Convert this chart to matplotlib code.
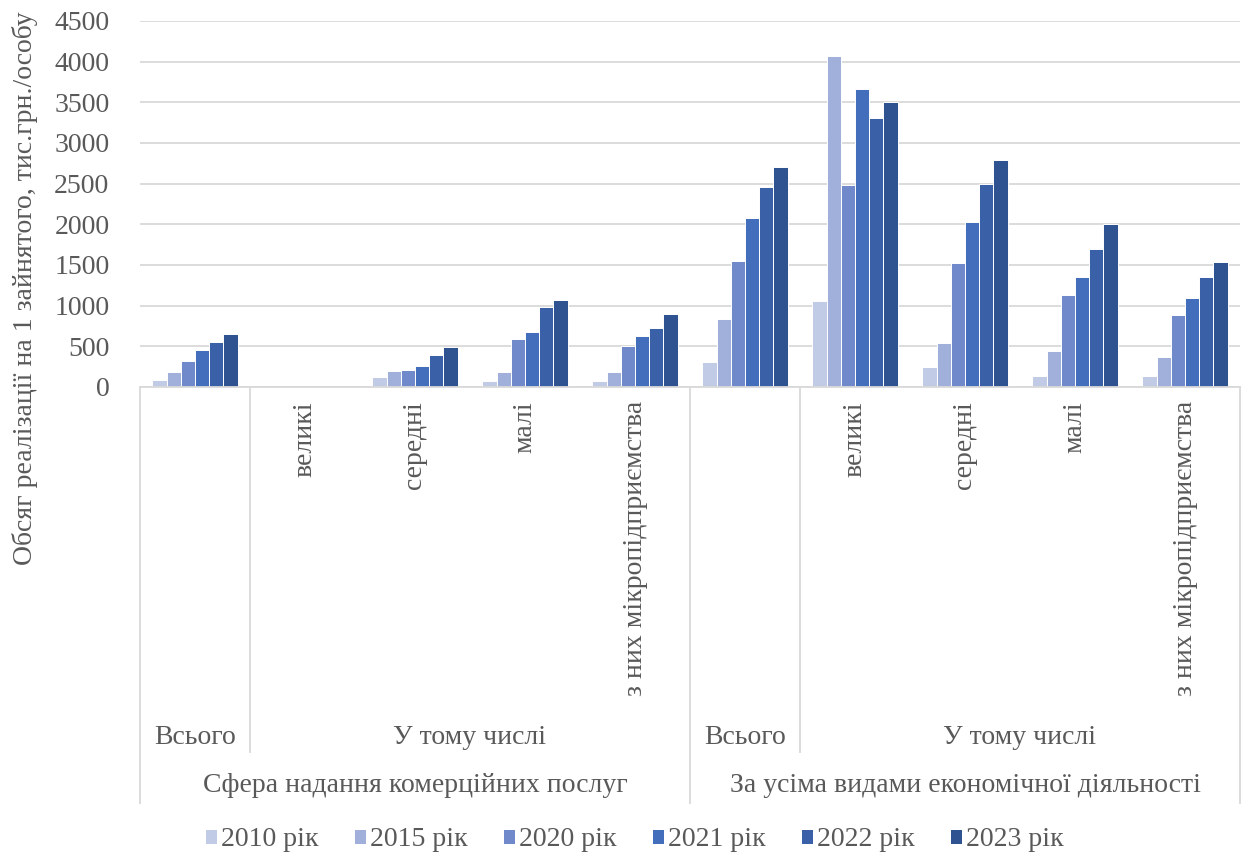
import numpy as np
import matplotlib
matplotlib.use("Agg")
import matplotlib.pyplot as plt
from matplotlib.lines import Line2D

plt.rcParams['font.family'] = ['Liberation Serif', 'DejaVu Serif']

# Category structure (two-level axis)
groups = ["Сфера надання комерційних послуг", "За усіма видами економічної діяльності"]
subgroups = ["Всього", "У тому числі"]
sizes = ["великі", "середні", "малі", "з них мікропідприємства"]
categories = ["Всього"] + sizes + ["Всього"] + sizes

series_names = ["2010 рік", "2015 рік", "2020 рік", "2021 рік", "2022 рік", "2023 рік"]
colors = ["#C1CBE5", "#A1B0DA", "#7089CB", "#426EBC", "#3A60A8", "#2F5290"]

# Values, thousand UAH per employed person (None = no data)
v2010 = [91, None, 124, 74, 70, 309, 1056, 247, 140, 140]
v2015 = [190, None, 202, 190, 190, 837, 4070, 540, 445, 371]
v2020 = [318, None, 215, 587, 500, 1555, 2487, 1522, 1126, 891]
v2021 = [455, None, 264, 678, 628, 2083, 3666, 2025, 1349, 1097]
v2022 = [558, None, 393, 979, 731, 2454, 3311, 2495, 1695, 1357]
v2023 = [657, None, 488, 1066, 901, 2709, 3505, 2796, 2000, 1542]
series = [v2010, v2015, v2020, v2021, v2022, v2023]

yticks = [0, 500, 1000, 1500, 2000, 2500, 3000, 3500, 4000, 4500]

W, H = 1248, 856
fig = plt.figure(figsize=(W / 100, H / 100), dpi=100)

x0, x1 = 140, 1240
y_top, y_base = 21, 387
ax = fig.add_axes([x0 / W, 1 - y_base / H, (x1 - x0) / W, (y_base - y_top) / H])

text_color = "#595959"
grid_color = "#D9D9D9"
fs = 20

n = len(categories)
idx = np.arange(n) + 0.5
bw = 0.129
for j, (vals, name, c) in enumerate(zip(series, series_names, colors)):
    arr = np.array([np.nan if v is None else v for v in vals], dtype=float)
    ax.bar(idx + (j - 2.5) * bw, arr, width=bw, color=c, edgecolor="white",
           linewidth=0.7, label=name, zorder=3)

ax.set_xlim(0, n)
ax.set_ylim(0, 4500)
ax.set_yticks(yticks)
ax.set_yticklabels([str(t) for t in yticks], fontsize=fs, color=text_color)
ax.tick_params(axis='y', length=0, pad=22)
ax.set_xticks([])
ax.yaxis.grid(True, color=grid_color, linewidth=1.3, zorder=0)
for s in ["top", "right", "left"]:
    ax.spines[s].set_visible(False)
ax.spines["bottom"].set_color(grid_color)
ax.spines["bottom"].set_linewidth(1.3)
ax.spines["bottom"].set_zorder(4)

# Multi-level category axis, drawn in figure pixel coordinates
def fx(px):
    return px / W

def fy(py):
    return 1 - py / H

cw = (x1 - x0) / n
lvl1_bottom = 752
lvl2_bottom = 803
for k in range(n + 1):
    xp = x0 + k * cw
    if k in (0, 5, 10):
        bottom = lvl2_bottom
    elif k in (1, 6):
        bottom = lvl1_bottom
    else:
        continue
    fig.add_artist(Line2D([fx(xp), fx(xp)], [fy(y_base), fy(bottom)],
                          color=grid_color, linewidth=1.3))

# rotated size labels
for k, lab in enumerate(categories):
    if lab == "Всього":
        continue
    xc = x0 + (k + 0.5) * cw
    fig.text(fx(xc), fy(401), lab, rotation=90, ha="center", va="top",
             fontsize=fs, color=text_color)

# second level labels
for g in range(2):
    base = g * 5
    fig.text(fx(x0 + (base + 0.5) * cw), fy(738), subgroups[0], ha="center",
             va="center", fontsize=fs, color=text_color)
    fig.text(fx(x0 + (base + 3) * cw), fy(738), subgroups[1], ha="center",
             va="center", fontsize=fs, color=text_color)
    fig.text(fx(x0 + (base + 2.5) * cw), fy(786), groups[g], ha="center",
             va="center", fontsize=fs, color=text_color)

fig.text(fx(25), fy(288), "Обсяг реалізації на 1 зайнятого, тис.грн./особу",
         rotation=90, ha="center", va="center", fontsize=fs, color=text_color)

leg = fig.legend(loc="center", bbox_to_anchor=(fx(635), fy(840)), ncol=6,
                 frameon=False, fontsize=fs, handlelength=0.4, handleheight=0.4,
                 handletextpad=0.15, columnspacing=1.3, borderaxespad=0)
for t in leg.get_texts():
    t.set_color(text_color)
for h in leg.legend_handles:
    h.set_edgecolor("none")

fig.savefig("out.png", dpi=100)
